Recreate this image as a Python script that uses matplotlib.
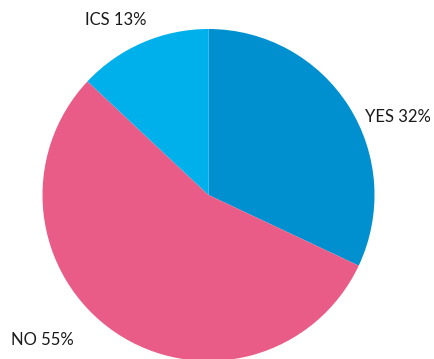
import matplotlib.pyplot as plt

categories = ['YES', 'NO', 'ICS']
values = [32, 55, 13]
colors = ['#0090d0', '#e85c87', '#00b0ea']

W, H = 434, 359
fig = plt.figure(figsize=(W / 100, H / 100), dpi=100)
ax = fig.add_axes([0, 0, 1, 1])

cx, cy, r = 208.5, H - 195, 166
ax.pie(values, colors=colors, startangle=90, counterclock=False,
       center=(cx, cy), radius=r, frame=True,
       wedgeprops=dict(linewidth=0))
ax.set_xlim(0, W)
ax.set_ylim(0, H)
ax.set_aspect('equal')
ax.axis('off')

label_pos = [(398, H - 117), (42, H - 340), (116, H - 20)]
for cat, v, (x, y) in zip(categories, values, label_pos):
    ax.text(x, y, f'{cat} {v}%', ha='center', va='center',
            fontsize=12, family='Lato', color='#1a1a1a')

fig.savefig('out.png', dpi=100)
